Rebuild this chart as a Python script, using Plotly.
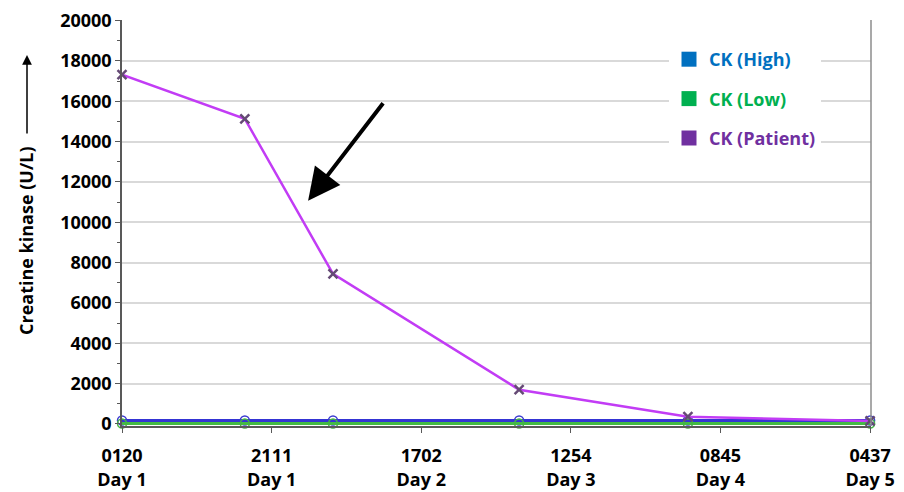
import plotly.graph_objects as go

# Sample times (hours after first sample at 0120 Day 1)
hours = [0, 16.3, 28.0, 52.7, 75.1, 99.28]
ck_patient = [17320, 15130, 7440, 1700, 360, 150]
ck_high = [170, 170, 170, 170, 170, 170]
ck_low = [24, 24, 24, 24, 24, 24]

tick_hours = [0, 19.86, 39.71, 59.57, 79.42, 99.28]
tick_labels = ["0120<br>Day 1", "2111<br>Day 1", "1702<br>Day 2",
               "1254<br>Day 3", "0845<br>Day 4", "0437<br>Day 5"]

legend_names = ["CK (High)", "CK (Low)", "CK (Patient)"]
legend_colors = ["#0070C0", "#00B050", "#7030A0"]

FONT = "Open Sans"

fig = go.Figure()

fig.add_trace(go.Scatter(
    x=hours, y=ck_high, mode="lines+markers", showlegend=False,
    line=dict(color="#3434d4", width=3),
    marker=dict(symbol="circle-open", size=9, color="#3a3ad0", line=dict(width=1.5)),
    cliponaxis=False))
fig.add_trace(go.Scatter(
    x=hours, y=ck_low, mode="lines+markers", showlegend=False,
    line=dict(color="#44bb44", width=3),
    marker=dict(symbol="circle-open", size=9, color="#45b545", line=dict(width=1.5)),
    cliponaxis=False))
fig.add_trace(go.Scatter(
    x=hours, y=ck_patient, mode="lines+markers", showlegend=False,
    line=dict(color="#c23cf5", width=2.5),
    marker=dict(symbol="x-thin", size=9, color="#654a75", line=dict(width=2.5, color="#654a75")),
    cliponaxis=False))

for i, (name, col) in enumerate(zip(legend_names, legend_colors)):
    fig.add_trace(go.Scatter(
        x=[None], y=[None], mode="markers", legendgroup=f"g{i}",
        name=f"<b><span style='color:{col}'>{name}</span></b>",
        marker=dict(symbol="square", size=15, color=col)))

fig.update_layout(
    width=904, height=492,
    margin=dict(l=122, r=33, t=20, b=66),
    paper_bgcolor="white", plot_bgcolor="white",
    font=dict(family=FONT, size=18, color="black"),
    legend=dict(x=(669 - 122) / 749, y=(426 - 41) / 406, xanchor="left", yanchor="top",
                bgcolor="white", tracegroupgap=13, font=dict(size=18, family=FONT)),
    xaxis=dict(range=[0, 99.4], tickvals=tick_hours, ticktext=tick_labels,
               automargin=False,
               showgrid=False, zeroline=False, showline=True, linecolor="#595959",
               linewidth=1.5, ticks="outside", ticklen=5, tickcolor="#595959",
               ticklabelstandoff=8,
               tickfont=dict(family=FONT, size=18, color="black", weight="bold")),
    yaxis=dict(range=[-100, 20030], tickvals=list(range(0, 20001, 2000)),
               tickformat="d", automargin=False,
               showgrid=True, gridcolor="#d9d9d9", gridwidth=1.5, zeroline=False,
               showline=True, linecolor="#595959", linewidth=1.5,
               ticks="outside", ticklen=5, tickcolor="#595959",
               minor=dict(dtick=1000, ticks="outside", ticklen=3, tickcolor="#595959", showgrid=False),
               tickfont=dict(family=FONT, size=18, color="black", weight="bold")),
)

# right border of the plot area
fig.add_shape(type="line", xref="paper", yref="paper", x0=1, x1=1, y0=0, y1=1,
              line=dict(color="#8c8c8c", width=1.5))

# y-axis title with arrow
fig.add_annotation(xref="paper", yref="paper", x=(26 - 122) / 749, y=(426 - 240) / 406,
                   xanchor="center", yanchor="middle",
                   text="<b>Creatine kinase (U/L)</b>", textangle=-90, showarrow=False,
                   font=dict(family=FONT, size=18, color="black"))
fig.add_annotation(xref="paper", yref="paper", x=(27 - 122) / 749, y=(426 - 55) / 406,
                   ax=0, ay=80, text="", showarrow=True, arrowhead=2, arrowsize=1.3,
                   arrowwidth=1.5, arrowcolor="black")

# big arrow pointing at the steep drop
fig.add_annotation(xref="x", yref="y", x=24.7, y=11070, axref="x", ayref="y",
                   ax=34.8, ay=15980, text="", showarrow=True, arrowhead=2,
                   arrowsize=1.6, arrowwidth=4, arrowcolor="black")

fig.write_html("out.html", config={"displayModeBar": False},
               post_script="document.body.style.margin='0';document.body.style.overflow='hidden';")
